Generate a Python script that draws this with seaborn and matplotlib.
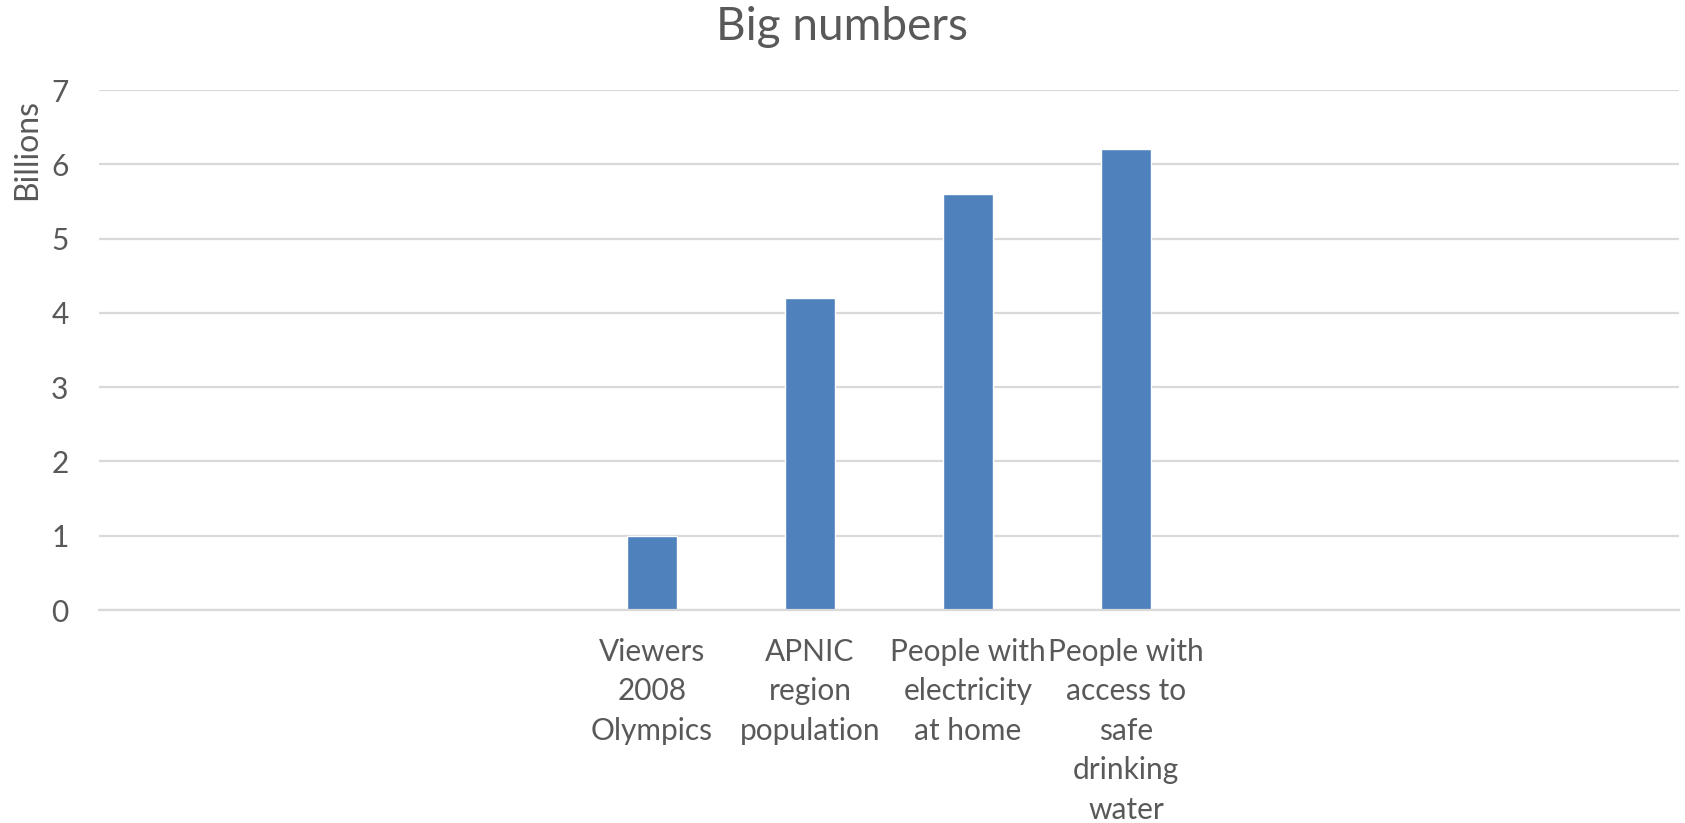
import matplotlib
matplotlib.use("Agg")
import matplotlib.pyplot as plt
import seaborn as sns
import pandas as pd

categories = ["Viewers\n2008\nOlympics", "APNIC\nregion\npopulation",
              "People with\nelectricity\nat home",
              "People with\naccess to\nsafe\ndrinking\nwater"]
values = [1.0, 4.2, 5.6, 6.2]
yticks = [0, 1, 2, 3, 4, 5, 6, 7]

sns.set_theme(style="white")
plt.rcParams['font.family'] = ['Lato', 'DejaVu Sans']

text_color = "#595959"
grid_color = "#D9D9D9"
bar_color = "#4F81BD"

df = pd.DataFrame({"cat": categories, "val": values})

fig = plt.figure(figsize=(16.85, 8.23), dpi=100)
ax = fig.add_axes([99/1685, 1-610/823, 1580/1685, 520/823])

sns.barplot(data=df, x="cat", y="val", color=bar_color, width=0.316,
            saturation=1, ax=ax, zorder=3)

ax.set_xlim(-3.5, 6.5)
ax.set_ylim(0, 7)
ax.set_yticks(yticks)
ax.set_yticklabels([str(t) for t in yticks])
ax.grid(axis="y", color=grid_color, linewidth=1.6, zorder=0)
ax.grid(axis="x", visible=False)
for s in ["top", "right", "left"]:
    ax.spines[s].set_visible(False)
ax.spines["bottom"].set_color(grid_color)
ax.spines["bottom"].set_linewidth(1.6)
ax.spines["bottom"].set_zorder(4)

ax.tick_params(axis="y", length=0, pad=22, labelsize=21.5, labelcolor=text_color)
ax.tick_params(axis="x", length=0, pad=20, labelsize=21.5, labelcolor=text_color)
for lab in ax.get_xticklabels():
    lab.set_linespacing(1.5)
    lab.set_ha("center")

ax.set_xlabel("")
ax.set_ylabel("")
fig.text(27/1685, 1-150/823, "Billions", rotation=90, ha="center", va="center",
         fontsize=23, color=text_color)
fig.text(842/1685, 1-27/823, "Big numbers", ha="center", va="center",
         fontsize=33, color=text_color)

fig.savefig("out.png", dpi=100)
